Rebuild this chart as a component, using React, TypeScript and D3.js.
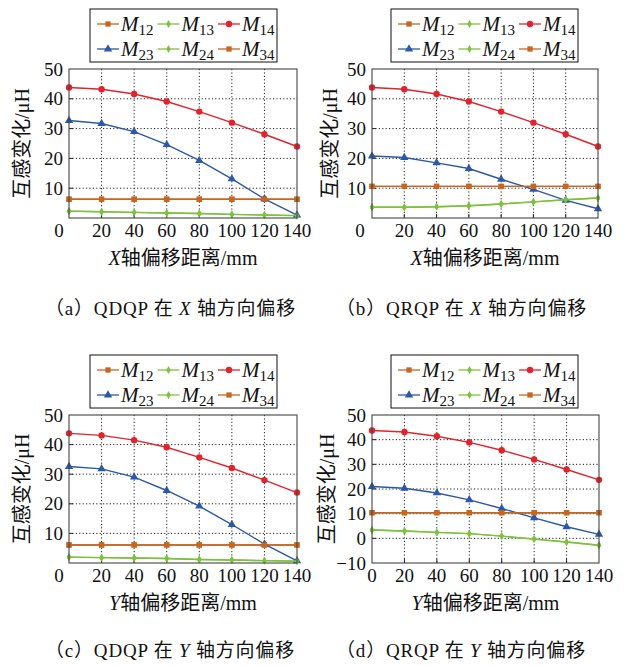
import React from "react";
import * as d3 from "d3";

// x positions (mm)
const xVals = [0, 20, 40, 60, 80, 100, 120, 140];
const xTicks = [0, 20, 40, 60, 80, 100, 120, 140];
const seriesNames = ["12", "13", "14", "23", "24", "34"];
const seriesColors = ["#c8651f", "#7dc23c", "#e2222c", "#2b58a8", "#7dc23c", "#c8651f"];

// (a) QDQP, X offset
const aM12 = [6.3, 6.3, 6.3, 6.3, 6.3, 6.3, 6.3, 6.3];
const aM13 = [2.3, 2.1, 1.9, 1.7, 1.5, 1.2, 1.0, 0.8];
const aM14 = [43.8, 43.2, 41.6, 39.1, 35.7, 32.0, 28.1, 24.0];
const aM23 = [32.7, 31.7, 29.0, 24.6, 19.3, 13.1, 6.4, 1.0];
const aM24 = [2.3, 2.1, 1.9, 1.7, 1.5, 1.2, 1.0, 0.8];
const aM34 = [6.3, 6.3, 6.3, 6.3, 6.3, 6.3, 6.3, 6.3];

// (b) QRQP, X offset
const bM12 = [10.6, 10.6, 10.6, 10.6, 10.6, 10.6, 10.6, 10.6];
const bM13 = [3.6, 3.6, 3.8, 4.1, 4.7, 5.4, 6.1, 6.7];
const bM14 = [43.8, 43.2, 41.6, 39.1, 35.7, 32.0, 28.1, 24.0];
const bM23 = [20.8, 20.3, 18.5, 16.6, 13.0, 9.6, 5.9, 3.1];
const bM24 = [3.6, 3.6, 3.8, 4.1, 4.7, 5.4, 6.1, 6.7];
const bM34 = [10.6, 10.6, 10.6, 10.6, 10.6, 10.6, 10.6, 10.6];

// (c) QDQP, Y offset
const cM12 = [6.1, 6.1, 6.1, 6.1, 6.1, 6.1, 6.1, 6.1];
const cM13 = [2.0, 1.8, 1.7, 1.5, 1.2, 1.0, 0.8, 0.6];
const cM14 = [43.8, 43.1, 41.5, 39.1, 35.7, 32.1, 28.0, 23.8];
const cM23 = [32.6, 31.8, 29.0, 24.5, 19.2, 13.0, 6.4, 0.7];
const cM24 = [2.0, 1.8, 1.7, 1.5, 1.2, 1.0, 0.8, 0.6];
const cM34 = [6.1, 6.1, 6.1, 6.1, 6.1, 6.1, 6.1, 6.1];

// (d) QRQP, Y offset
const dM12 = [10.4, 10.4, 10.4, 10.4, 10.4, 10.4, 10.4, 10.4];
const dM13 = [3.4, 3.0, 2.4, 1.9, 0.9, -0.3, -1.5, -2.8];
const dM14 = [43.7, 43.1, 41.4, 38.9, 35.7, 32.0, 27.9, 23.7];
const dM23 = [21.0, 20.3, 18.4, 15.6, 12.1, 8.3, 4.7, 1.6];
const dM24 = [3.4, 3.0, 2.4, 1.9, 0.9, -0.3, -1.5, -2.8];
const dM34 = [10.4, 10.4, 10.4, 10.4, 10.4, 10.4, 10.4, 10.4];

const yTicksPos = [10, 20, 30, 40, 50];
const yTicksNeg = [-10, 0, 10, 20, 30, 40, 50];

const FONT = "'Liberation Serif', 'Noto Sans CJK SC', serif";
const symbolTypes = [d3.symbolSquare, d3.symbolDiamond, d3.symbolCircle, d3.symbolTriangle, d3.symbolDiamond, d3.symbolSquare];
const symbolSizes = [28, 18, 32, 30, 18, 28];

function Marker({ i, x, y }) {
  const path = d3.symbol().type(symbolTypes[i]).size(symbolSizes[i])();
  return <path d={path} transform={`translate(${x},${y})`} fill={seriesColors[i]} />;
}

function Panel({ box, legend, yDomain, yTicks, series, axisLetter, zeroShift, titleGap }) {
  const [left, right, top, bottom] = box;
  const x = d3.scaleLinear().domain([0, 140]).range([left, right]);
  const y = d3.scaleLinear().domain(yDomain).range([bottom, top]);
  const line = d3.line<number>().x((_, i) => x(xVals[i])).y((d) => y(d));
  const gridY = yTicks.filter((t) => t !== yDomain[0] && t !== yDomain[1]);
  const gridX = xTicks.filter((t) => t !== 0 && t !== 140);
  const [lx, ly] = legend;

  return (
    <g fontFamily={FONT}>
      {/* legend */}
      <rect x={lx} y={ly} width={187} height={53} fill="white" stroke="#111" strokeWidth={1} />
      {seriesNames.map((name, i) => {
        const col = i % 3;
        const row = Math.floor(i / 3);
        const sx = lx + 7 + col * 60.5;
        const sy = ly + 15 + row * 25;
        return (
          <g key={name}>
            <line x1={sx} x2={sx + 22} y1={sy} y2={sy} stroke={seriesColors[i]} strokeWidth={1.3} />
            <Marker i={i} x={sx + 11} y={sy} />
            <text x={sx + 24} y={sy + 7} fontSize={21} fill="#111">
              <tspan fontStyle="italic">M</tspan>
              <tspan fontSize={15} dy={4}>{name}</tspan>
            </text>
          </g>
        );
      })}

      {/* grid */}
      {gridY.map((t) => (
        <line key={"gy" + t} x1={left} x2={right} y1={y(t)} y2={y(t)} stroke="#222" strokeWidth={1} strokeDasharray="1.2,2.2" />
      ))}
      {gridX.map((t) => (
        <line key={"gx" + t} x1={x(t)} x2={x(t)} y1={top} y2={bottom} stroke="#222" strokeWidth={1} strokeDasharray="1.2,2.2" />
      ))}
      {gridY.map((t) => (
        <line key={"ty" + t} x1={left} x2={left + 4} y1={y(t)} y2={y(t)} stroke="#222" />
      ))}
      {gridX.map((t) => (
        <line key={"tx" + t} x1={x(t)} x2={x(t)} y1={bottom} y2={bottom - 4} stroke="#222" />
      ))}

      {/* series */}
      {series.map((vals, i) => (
        <g key={"s" + i}>
          <path d={line(vals) || ""} fill="none" stroke={seriesColors[i]} strokeWidth={1.4} />
          {vals.map((v, j) => (
            <Marker key={j} i={i} x={x(xVals[j])} y={y(v)} />
          ))}
        </g>
      ))}

      <rect x={left} y={top} width={right - left} height={bottom - top} fill="none" stroke="#444" strokeWidth={1.1} />

      {/* y tick labels */}
      {yTicks.map((t) => (
        <text key={"yl" + t} x={left - 6} y={y(t)} dy="0.35em" textAnchor="end" fontSize={19} fill="#111">
          {t < 0 ? "\u2212" + Math.abs(t) : t}
        </text>
      ))}
      {/* x tick labels */}
      {xTicks.map((t) => (
        <text key={"xl" + t} x={x(t) + (t === 0 ? zeroShift : 0)} y={bottom + 19} textAnchor="middle" fontSize={19} fill="#111">
          {t}
        </text>
      ))}

      {/* axis titles */}
      <text x={(left + right) / 2} y={bottom + 47} textAnchor="middle" fontSize={20} fill="#111">
        <tspan fontStyle="italic">{axisLetter}</tspan>
        轴偏移距离/mm
      </text>
      <text
        transform={`translate(${left - titleGap},${(top + bottom) / 2}) rotate(-90)`}
        textAnchor="middle"
        dy="0.35em"
        fontSize={20}
        fill="#111"
      >
        互感变化/μH
      </text>
    </g>
  );
}

function Caption({ x, y, tag, name, letter }) {
  return (
    <text x={x} y={y} fontSize={19} fontFamily={FONT} fill="#111" letterSpacing={0.8}>
      （{tag}）{name} 在 <tspan fontStyle="italic">{letter}</tspan> 轴方向偏移
    </text>
  );
}

export default function App() {
  return (
    <svg
      width={625}
      height={666}
      viewBox="0 0 625 666"
      style={{ position: "absolute", left: 0, top: 0, background: "white" }}
    >
      <Panel
        box={[69, 297, 69, 218]}
        legend={[90, 9]}
        yDomain={[0, 50]}
        yTicks={yTicksPos}
        series={[aM12, aM13, aM14, aM23, aM24, aM34]}
        axisLetter="X"
        zeroShift={-10}
        titleGap={47}
      />
      <Panel
        box={[372, 598, 69, 218]}
        legend={[391, 9]}
        yDomain={[0, 50]}
        yTicks={yTicksPos}
        series={[bM12, bM13, bM14, bM23, bM24, bM34]}
        axisLetter="X"
        zeroShift={-12}
        titleGap={42}
      />
      <Panel
        box={[69, 297, 415, 563]}
        legend={[90, 355]}
        yDomain={[0, 50]}
        yTicks={yTicksPos}
        series={[cM12, cM13, cM14, cM23, cM24, cM34]}
        axisLetter="Y"
        zeroShift={-10}
        titleGap={47}
      />
      <Panel
        box={[372, 599, 415, 563]}
        legend={[391, 355]}
        yDomain={[-10, 50]}
        yTicks={yTicksNeg}
        series={[dM12, dM13, dM14, dM23, dM24, dM34]}
        axisLetter="Y"
        zeroShift={0}
        titleGap={45}
      />
      <Caption x={45} y={315} tag="a" name="QDQP" letter="X" />
      <Caption x={336} y={315} tag="b" name="QRQP" letter="X" />
      <Caption x={45} y={657} tag="c" name="QDQP" letter="Y" />
      <Caption x={336} y={657} tag="d" name="QRQP" letter="Y" />
    </svg>
  );
}
